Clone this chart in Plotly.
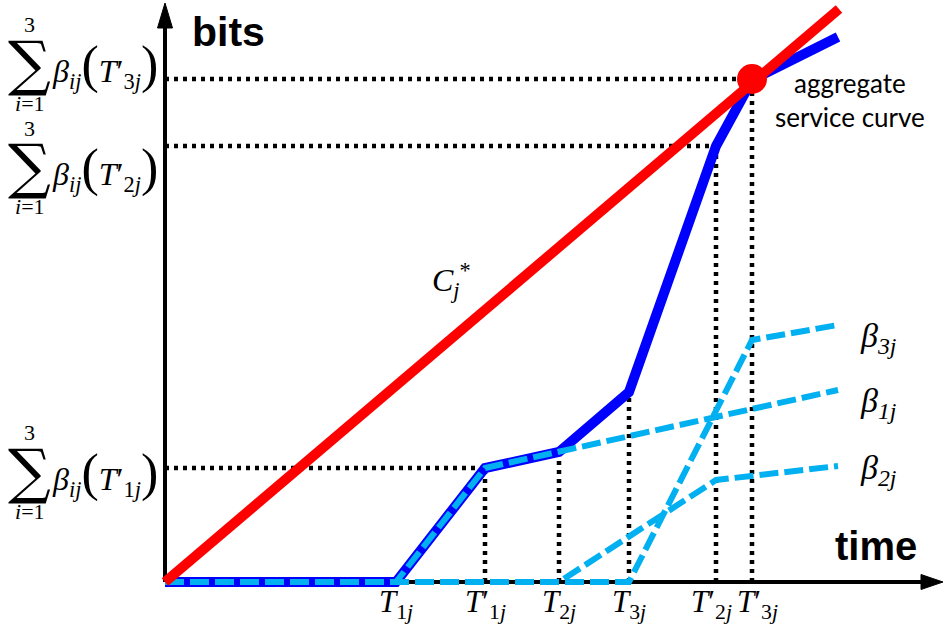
import plotly.graph_objects as go

# ---- data (time and bits in arbitrary units) ----
T1, T1p, T2, T3, T2p, T3p, T_END = 23.1, 32.0, 39.4, 46.4, 55.1, 58.7, 67.3

beta1_t = [0, T1, T1p, T_END]
beta1_b = [0, 0, 11.4, 19.2]
beta2_t = [0, T2, T2p, T_END]
beta2_b = [0, 0, 10.2, 11.6]
beta3_t = [0, T3, T3p, T_END]
beta3_b = [0, 0, 24.2, 25.7]

agg_t = [0, T1, T1p, T2, T3, T2p, T3p, T_END]
agg_b = [0, 0, 11.4, 13.0, 19.0, 43.6, 50.2, 54.5]

cstar_t = [0, 67.4]
cstar_b = [0, 57.3]

meet_t, meet_b = T3p, 50.3

# dotted guide levels
guide_t = [T1p, T2, T3, T2p, T3p]
guide_b = [11.4, 13.0, 19.0, 43.6, 50.3]
hguide_t = [T1p, T2p, T3p]
hguide_b = [11.4, 43.6, 50.3]

W, H = 945, 635
ML, MB = 155, 43
X0 = [-1.0, 78.0]
Y0 = [-1.0, 58.2]

def px(xp):
    return (xp - ML) / (W - ML)

def py(yp):
    return (H - MB - yp) / (H - MB)

fig = go.Figure()

# dotted guides
gx, gy = [], []
for t, b in zip(guide_t, guide_b):
    gx += [t, t, None]
    gy += [0, b, None]
for t, b in zip(hguide_t, hguide_b):
    gx += [0, t, None]
    gy += [b, b, None]
fig.add_trace(go.Scatter(x=gx, y=gy, mode="lines",
                         line=dict(color="black", width=4.5, dash="4px,5px"),
                         hoverinfo="skip"))

# aggregate (blue)
fig.add_trace(go.Scatter(x=agg_t, y=agg_b, mode="lines",
                         line=dict(color="#0000FF", width=10)))

# individual service curves (dashed light blue)
for tt, bb in [(beta1_t, beta1_b), (beta2_t, beta2_b), (beta3_t, beta3_b)]:
    fig.add_trace(go.Scatter(x=tt, y=bb, mode="lines",
                             line=dict(color="#00B0F0", width=6, dash="19px,6px")))

# C_j* red line
fig.add_trace(go.Scatter(x=cstar_t, y=cstar_b, mode="lines",
                         line=dict(color="#FF0000", width=10)))

# intersection dot
fig.add_trace(go.Scatter(x=[meet_t], y=[meet_b], mode="markers",
                         marker=dict(color="#FF0000", size=30), cliponaxis=False))

# axes with arrows
shapes = [
    dict(type="line", xref="x", yref="y", x0=0, y0=0, x1=0, y1=55.6,
         line=dict(color="black", width=4), layer="below"),
    dict(type="path", xref="x", yref="y",
         path="M -0.75,55.4 L 0.75,55.4 L 0,57.9 Z",
         fillcolor="black", line=dict(color="black", width=1)),
    dict(type="line", xref="x", yref="y", x0=0, y0=0, x1=75.8, y1=0,
         line=dict(color="black", width=4), layer="below"),
    dict(type="path", xref="x", yref="y",
         path="M 75.6,0.75 L 75.6,-0.75 L 77.8,0 Z",
         fillcolor="black", line=dict(color="black", width=1)),
]

SERIF = "Liberation Serif"
ann = []
ann.append(dict(text="<b>bits</b>", x=px(190), y=py(32), xref="paper", yref="paper",
                xanchor="left", yanchor="middle", showarrow=False,
                font=dict(family="Liberation Sans", size=41, color="black")))
ann.append(dict(text="<b>time</b>", x=px(919), y=py(546), xref="paper", yref="paper",
                xanchor="right", yanchor="middle", showarrow=False,
                font=dict(family="Liberation Sans", size=40, color="black")))
ann.append(dict(text="aggregate<br>service curve", x=px(850), y=py(100),
                xref="paper", yref="paper", xanchor="center", yanchor="middle",
                showarrow=False, align="center",
                font=dict(family="Lato", size=26, color="black")))

BIGP = '<span style="font-size:52px">%s</span>'

# time labels
tlabels = [(T1, "<i>T</i><sub>1<i>j</i></sub>"),
           (T1p, "<i>T</i>′<sub>1<i>j</i></sub>"),
           (T2, "<i>T</i><sub>2<i>j</i></sub>"),
           (T3, "<i>T</i><sub>3<i>j</i></sub>"),
           (T2p, "<i>T</i>′<sub>2<i>j</i></sub>"),
           (T3p, "<i>T</i>′<sub>3<i>j</i></sub>")]
toff = [0, 0, 0, 0, -0.5, 0.5]
for (t, s), o in zip(tlabels, toff):
    ann.append(dict(text=s, x=t + o, y=py(604), xref="x", yref="paper",
                    xanchor="center", yanchor="middle", showarrow=False,
                    font=dict(family=SERIF, size=31, color="black")))

# beta labels
for yp, s in [(338, "β<sub>3<i>j</i></sub>"), (403, "β<sub>1<i>j</i></sub>"),
              (470, "β<sub>2<i>j</i></sub>")]:
    ann.append(dict(text="<i>" + s + "</i>", x=px(858), y=py(yp), xref="paper",
                    yref="paper", xanchor="left", yanchor="middle", showarrow=False,
                    font=dict(family=SERIF, size=34, color="black")))

# C_j*
ann.append(dict(text="<i>C</i><sub><i>j</i></sub><sup>*</sup>", x=px(430), y=py(280),
                xref="paper", yref="paper", xanchor="left", yanchor="middle",
                showarrow=False, font=dict(family=SERIF, size=32, color="black")))

# sum labels on the y axis
for yc, k in [(61, 3), (164, 2), (469, 1)]:
    ann.append(dict(text="∑", x=px(30), y=py(yc + 2), xref="paper", yref="paper",
                    xanchor="center", yanchor="middle", showarrow=False,
                    font=dict(family="DejaVu Serif", size=60, color="black")))
    ann.append(dict(text="3", x=px(30), y=py(yc - 36), xref="paper", yref="paper",
                    xanchor="center", yanchor="middle", showarrow=False,
                    font=dict(family=SERIF, size=22, color="black")))
    ann.append(dict(text="<i>i</i>=1", x=px(30), y=py(yc + 42), xref="paper",
                    yref="paper", xanchor="center", yanchor="middle", showarrow=False,
                    font=dict(family=SERIF, size=22, color="black")))
    ann.append(dict(text="<i>β</i><sub><i>ij</i></sub>" + (BIGP % "(") +
                    "<i>T</i>′<sub>%d<i>j</i></sub>" % k + (BIGP % ")"),
                    x=px(50), y=py(yc + 4), xref="paper", yref="paper",
                    xanchor="left", yanchor="middle", showarrow=False,
                    font=dict(family=SERIF, size=32, color="black")))

fig.update_layout(
    width=W, height=H,
    margin=dict(l=ML, r=0, t=0, b=MB),
    paper_bgcolor="white", plot_bgcolor="white",
    showlegend=False,
    xaxis=dict(range=X0, visible=False),
    yaxis=dict(range=Y0, visible=False),
    shapes=shapes, annotations=ann,
)

fig.write_html("out.html", config={"displayModeBar": False},
               post_script="document.body.style.margin='0';")
